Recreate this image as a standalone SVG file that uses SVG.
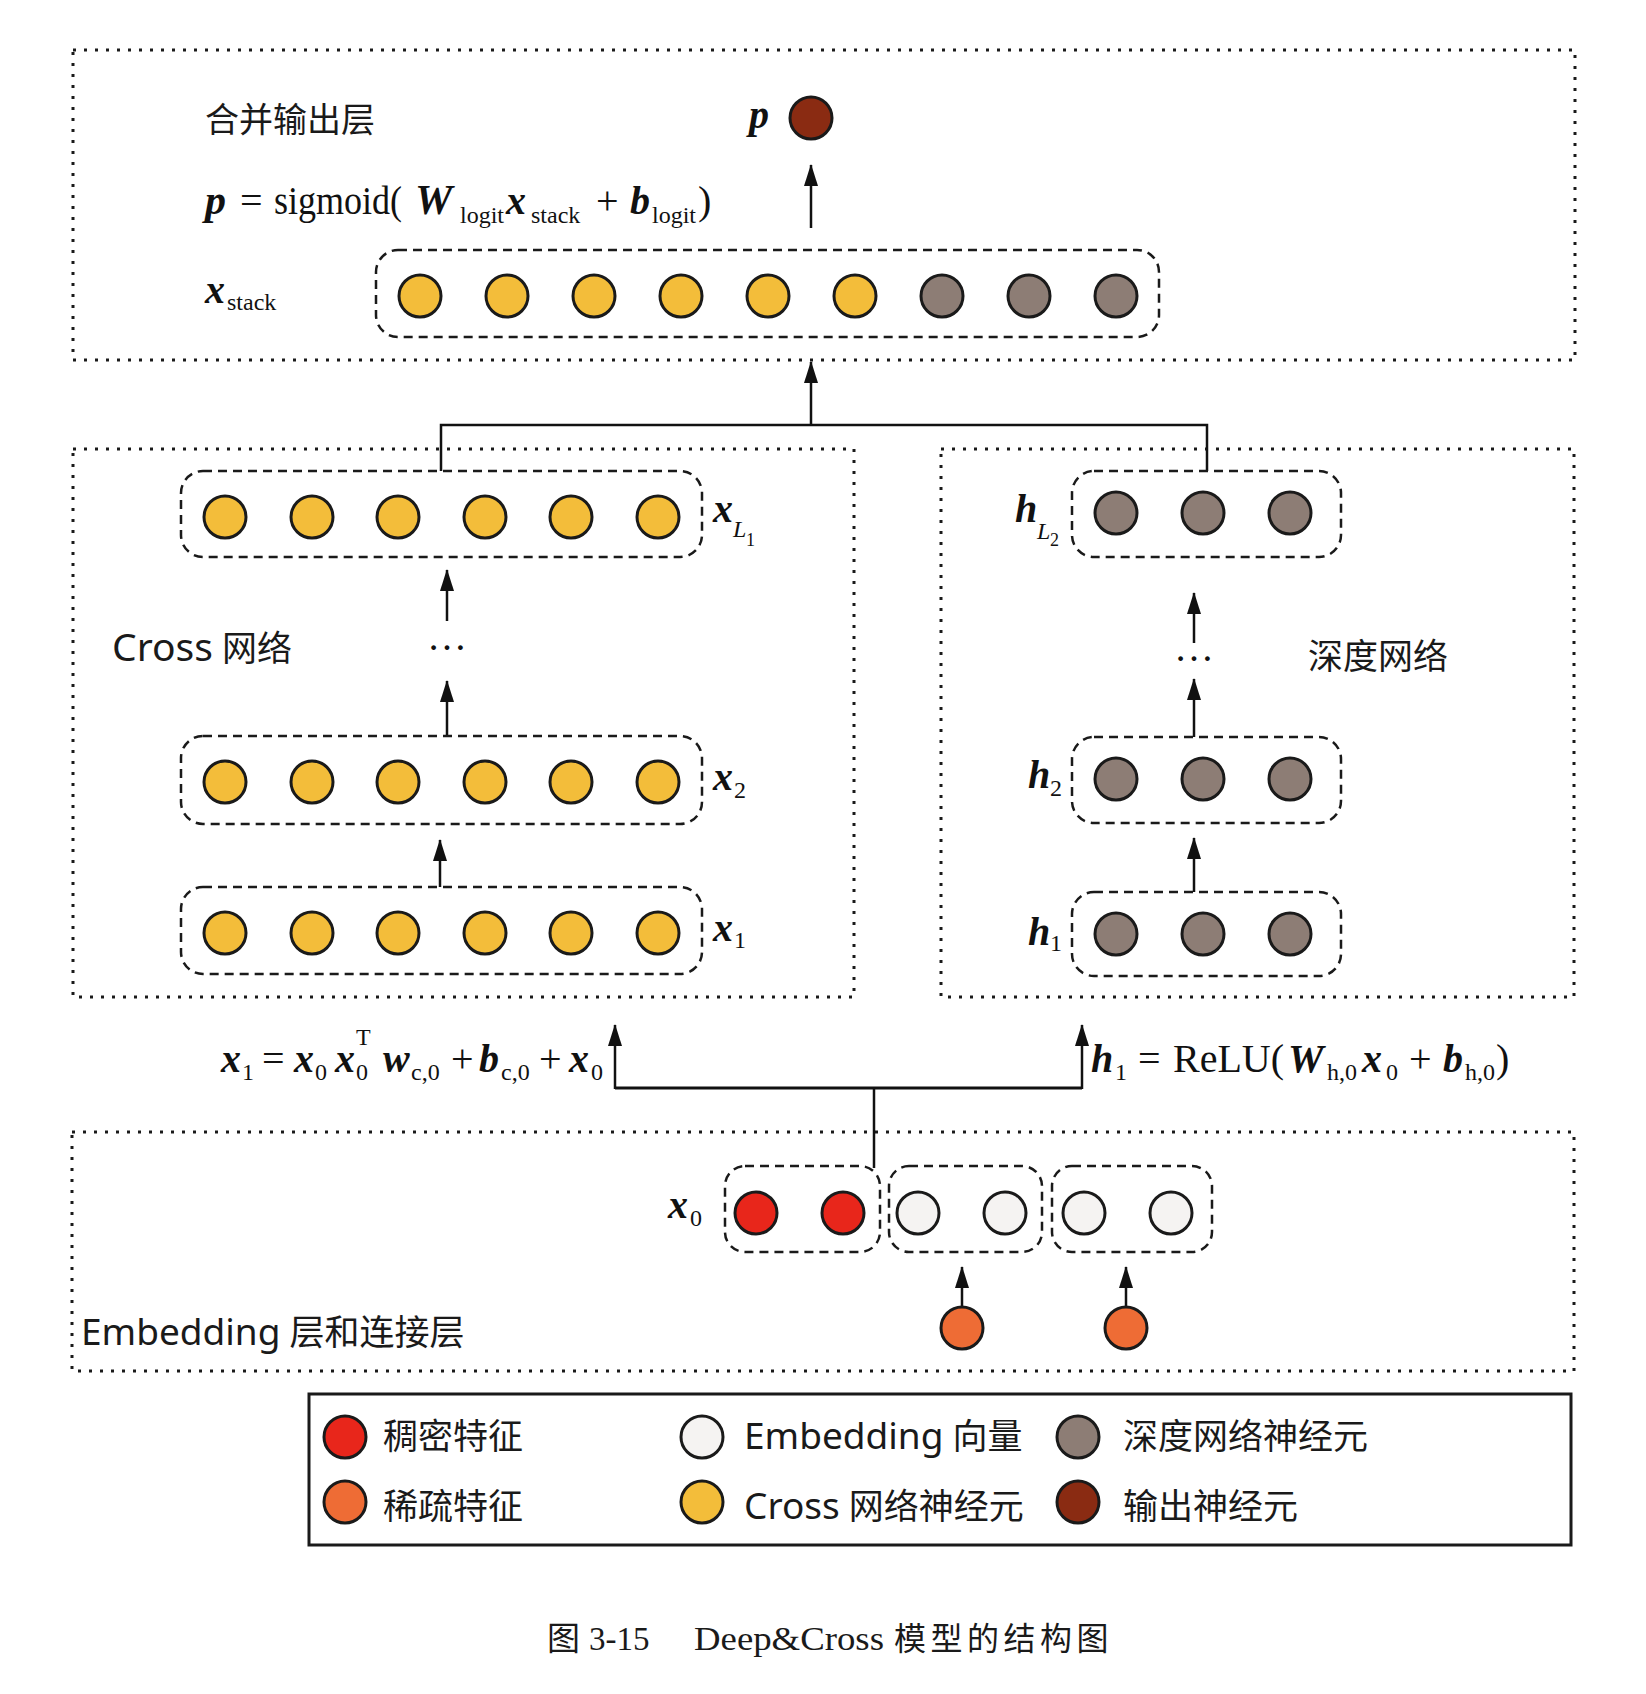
<svg xmlns="http://www.w3.org/2000/svg" width="1646" height="1694" viewBox="0 0 1646 1694">
<style>
.outer{fill:none;stroke:#1a1a1a;stroke-width:3;stroke-dasharray:3 8}
.grp{fill:none;stroke:#1a1a1a;stroke-width:2.5;stroke-dasharray:9 6}
.n{stroke:#1a1a1a;stroke-width:3}
.yel{fill:#F3BD3A}
.gry{fill:#8D7D75}
.out{fill:#8A2B12}
.red{fill:#E8261B}
.org{fill:#EE6C35}
.wht{fill:#F5F3F2}
.con{fill:none;stroke:#111;stroke-width:2.5}
.cjk{font-family:"Noto Sans","Noto Sans CJK SC",sans-serif;fill:#1a1a1a}
.lat{font-size:37px}
.m{font-family:"Liberation Serif",serif;fill:#111;font-size:40px}
.bi{font-weight:bold;font-style:italic}
.s{font-size:24px}
.cap{font-family:"Liberation Serif","Noto Sans CJK SC",serif;fill:#1a1a1a;font-size:33px}
</style>
<defs>
<marker id="ah" viewBox="0 0 22 14" refX="21" refY="7" markerWidth="22" markerHeight="14" markerUnits="userSpaceOnUse" orient="auto">
<path d="M0,0 L22,7 L0,14 z" fill="#111"/>
</marker>
</defs>

<!-- outer layer boxes -->
<g id="layers">
<rect class="outer" x="73" y="50" width="1502" height="310"/>
<rect class="outer" x="73" y="449" width="781" height="548"/>
<rect class="outer" x="941" y="449" width="633" height="548"/>
<rect class="outer" x="72" y="1132" width="1502" height="239"/>
</g>

<!-- connectors -->
<g id="connectors">
<line class="con" x1="811" y1="228" x2="811" y2="165" marker-end="url(#ah)"/>
<polyline class="con" points="441,471 441,425 1207,425 1207,471"/>
<line class="con" x1="811" y1="425" x2="811" y2="362" marker-end="url(#ah)"/>
<line class="con" x1="447" y1="621" x2="447" y2="570" marker-end="url(#ah)"/>
<line class="con" x1="447" y1="735" x2="447" y2="681" marker-end="url(#ah)"/>
<line class="con" x1="440" y1="887" x2="440" y2="840" marker-end="url(#ah)"/>
<line class="con" x1="1194" y1="643" x2="1194" y2="593" marker-end="url(#ah)"/>
<line class="con" x1="1194" y1="737" x2="1194" y2="679" marker-end="url(#ah)"/>
<line class="con" x1="1194" y1="892" x2="1194" y2="838" marker-end="url(#ah)"/>
<line class="con" x1="874" y1="1168" x2="874" y2="1088"/>
<polyline class="con" style="stroke-width:3" points="615,1088 1082,1088"/>
<line class="con" x1="615" y1="1089" x2="615" y2="1025" marker-end="url(#ah)"/>
<line class="con" x1="1082" y1="1089" x2="1082" y2="1025" marker-end="url(#ah)"/>
<line class="con" x1="962" y1="1307" x2="962" y2="1267" marker-end="url(#ah)"/>
<line class="con" x1="1126" y1="1307" x2="1126" y2="1267" marker-end="url(#ah)"/>
<text x="447" y="650" class="m" font-size="30" text-anchor="middle">…</text>
<text x="1194" y="661" class="m" font-size="30" text-anchor="middle">…</text>
</g>

<!-- output layer -->
<g id="title-output">
<text x="205" y="132" class="cjk" font-size="34">合并输出层</text>
</g>
<g id="p-node">
<text x="749" y="128" class="m bi" font-size="44">p</text>
<circle class="n out" cx="811" cy="118" r="21"/>
</g>
<g id="formula-p">
<text class="m" y="214"><tspan x="205" class="bi" font-size="42">p</tspan><tspan x="240">=</tspan><tspan x="274" textLength="128" lengthAdjust="spacingAndGlyphs">sigmoid(</tspan><tspan x="415" class="bi" font-size="42">W</tspan><tspan x="460" y="223" class="s">logit</tspan><tspan x="506" y="214" class="bi">x</tspan><tspan x="531" y="223" class="s">stack</tspan><tspan x="596" y="214">+</tspan><tspan x="630" class="bi">b</tspan><tspan x="652" y="223" class="s">logit</tspan><tspan x="698" y="214">)</tspan></text>
</g>
<g id="xstack">
<text class="m" y="303"><tspan x="205" class="bi">x</tspan><tspan x="227" y="310" class="s">stack</tspan></text>
<rect class="grp" x="376" y="250" width="783" height="87" rx="22"/>
<circle class="n yel" cx="420" cy="296" r="21"/>
<circle class="n yel" cx="507" cy="296" r="21"/>
<circle class="n yel" cx="594" cy="296" r="21"/>
<circle class="n yel" cx="681" cy="296" r="21"/>
<circle class="n yel" cx="768" cy="296" r="21"/>
<circle class="n yel" cx="855" cy="296" r="21"/>
<circle class="n gry" cx="942" cy="296" r="21"/>
<circle class="n gry" cx="1029" cy="296" r="21"/>
<circle class="n gry" cx="1116" cy="296" r="21"/>
</g>

<!-- cross network -->
<g id="cross-label"><text x="112" y="661" class="cjk" font-size="35"><tspan font-size="39">Cross</tspan> 网络</text></g>
<g id="xL1">
<rect class="grp" x="181" y="471" width="521" height="86" rx="22"/>
<circle class="n yel" cx="225" cy="517" r="21"/>
<circle class="n yel" cx="312" cy="517" r="21"/>
<circle class="n yel" cx="398" cy="517" r="21"/>
<circle class="n yel" cx="485" cy="517" r="21"/>
<circle class="n yel" cx="571" cy="517" r="21"/>
<circle class="n yel" cx="658" cy="517" r="21"/>
<text class="m" y="522"><tspan x="713" class="bi">x</tspan><tspan x="733" y="537" class="s" font-style="italic">L</tspan><tspan x="746" y="546" font-size="18">1</tspan></text>
</g>
<g id="x2">
<rect class="grp" x="181" y="736" width="521" height="88" rx="22"/>
<circle class="n yel" cx="225" cy="782" r="21"/>
<circle class="n yel" cx="312" cy="782" r="21"/>
<circle class="n yel" cx="398" cy="782" r="21"/>
<circle class="n yel" cx="485" cy="782" r="21"/>
<circle class="n yel" cx="571" cy="782" r="21"/>
<circle class="n yel" cx="658" cy="782" r="21"/>
<text class="m" y="790"><tspan x="713" class="bi">x</tspan><tspan x="734" y="798" class="s">2</tspan></text>
</g>
<g id="x1">
<rect class="grp" x="181" y="887" width="521" height="87" rx="22"/>
<circle class="n yel" cx="225" cy="933" r="21"/>
<circle class="n yel" cx="312" cy="933" r="21"/>
<circle class="n yel" cx="398" cy="933" r="21"/>
<circle class="n yel" cx="485" cy="933" r="21"/>
<circle class="n yel" cx="571" cy="933" r="21"/>
<circle class="n yel" cx="658" cy="933" r="21"/>
<text class="m" y="941"><tspan x="713" class="bi">x</tspan><tspan x="734" y="948" class="s">1</tspan></text>
</g>

<!-- deep network -->
<g id="deep-label"><text x="1308" y="669" class="cjk" font-size="35">深度网络</text></g>
<g id="hL2">
<rect class="grp" x="1072" y="471" width="269" height="86" rx="22"/>
<circle class="n gry" cx="1116" cy="513" r="21"/>
<circle class="n gry" cx="1203" cy="513" r="21"/>
<circle class="n gry" cx="1290" cy="513" r="21"/>
<text class="m" y="522"><tspan x="1015" class="bi">h</tspan><tspan x="1037" y="539" class="s" font-style="italic">L</tspan><tspan x="1050" y="546" font-size="18">2</tspan></text>
</g>
<g id="h2">
<rect class="grp" x="1072" y="737" width="269" height="86" rx="22"/>
<circle class="n gry" cx="1116" cy="779" r="21"/>
<circle class="n gry" cx="1203" cy="779" r="21"/>
<circle class="n gry" cx="1290" cy="779" r="21"/>
<text class="m" y="788"><tspan x="1028" class="bi">h</tspan><tspan x="1050" y="796" class="s">2</tspan></text>
</g>
<g id="h1">
<rect class="grp" x="1072" y="892" width="269" height="84" rx="22"/>
<circle class="n gry" cx="1116" cy="934" r="21"/>
<circle class="n gry" cx="1203" cy="934" r="21"/>
<circle class="n gry" cx="1290" cy="934" r="21"/>
<text class="m" y="945"><tspan x="1028" class="bi">h</tspan><tspan x="1050" y="951" class="s">1</tspan></text>
</g>

<!-- formulas -->
<g id="formula-cross">
<text class="m" y="1072"><tspan x="221" class="bi">x</tspan><tspan x="242" y="1080" class="s">1</tspan><tspan x="262" y="1072">=</tspan><tspan x="294" class="bi">x</tspan><tspan x="315" y="1080" class="s">0</tspan><tspan x="335" y="1072" class="bi">x</tspan><tspan x="356" y="1080" class="s">0</tspan><tspan x="356" y="1045" class="s">T</tspan><tspan x="383" y="1072" class="bi">w</tspan><tspan x="411" y="1080" class="s">c,0</tspan><tspan x="451" y="1072">+</tspan><tspan x="479" class="bi">b</tspan><tspan x="501" y="1080" class="s">c,0</tspan><tspan x="539" y="1072">+</tspan><tspan x="569" class="bi">x</tspan><tspan x="591" y="1080" class="s">0</tspan></text>
</g>
<g id="formula-deep">
<text class="m" y="1072"><tspan x="1091" class="bi">h</tspan><tspan x="1115" y="1080" class="s">1</tspan><tspan x="1138" y="1072">=</tspan><tspan x="1173">ReLU(</tspan><tspan x="1288" class="bi">W</tspan><tspan x="1327" y="1080" class="s">h,0</tspan><tspan x="1362" y="1072" class="bi">x</tspan><tspan x="1386" y="1080" class="s">0</tspan><tspan x="1409" y="1072">+</tspan><tspan x="1443" class="bi">b</tspan><tspan x="1465" y="1080" class="s">h,0</tspan><tspan x="1496" y="1072">)</tspan></text>
</g>

<!-- embedding layer -->
<g id="emb-label"><text x="81" y="1345" class="cjk" font-size="35"><tspan class="lat">Embedding</tspan> 层和连接层</text></g>
<g id="x0">
<text class="m" y="1218"><tspan x="668" class="bi">x</tspan><tspan x="690" y="1226" class="s">0</tspan></text>
<rect class="grp" x="725" y="1166" width="155" height="86" rx="20"/>
<rect class="grp" x="889" y="1166" width="153" height="86" rx="20"/>
<rect class="grp" x="1052" y="1166" width="160" height="86" rx="20"/>
<circle class="n red" cx="756" cy="1213" r="21"/>
<circle class="n red" cx="843" cy="1213" r="21"/>
<circle class="n wht" cx="918" cy="1213" r="21"/>
<circle class="n wht" cx="1005" cy="1213" r="21"/>
<circle class="n wht" cx="1084" cy="1213" r="21"/>
<circle class="n wht" cx="1171" cy="1213" r="21"/>
</g>
<g id="sparse1"><circle class="n org" cx="962" cy="1328" r="21"/></g>
<g id="sparse2"><circle class="n org" cx="1126" cy="1328" r="21"/></g>

<!-- legend -->
<g id="legend">
<rect x="309" y="1394" width="1262" height="151" fill="none" stroke="#1a1a1a" stroke-width="3"/>
<circle class="n red" cx="345" cy="1437" r="21"/>
<circle class="n org" cx="345" cy="1502" r="21"/>
<circle class="n wht" cx="702" cy="1437" r="21"/>
<circle class="n yel" cx="702" cy="1502" r="21"/>
<circle class="n gry" cx="1078" cy="1437" r="21"/>
<circle class="n out" cx="1078" cy="1502" r="21"/>
<text x="383" y="1449" class="cjk" font-size="35">稠密特征</text>
<text x="383" y="1519" class="cjk" font-size="35">稀疏特征</text>
<text x="744" y="1449" class="cjk" font-size="35"><tspan class="lat">Embedding</tspan> 向量</text>
<text x="744" y="1519" class="cjk" font-size="35"><tspan class="lat">Cross</tspan> 网络神经元</text>
<text x="1123" y="1449" class="cjk" font-size="35">深度网络神经元</text>
<text x="1123" y="1519" class="cjk" font-size="35">输出神经元</text>
</g>

<!-- caption -->
<g id="caption">
<text class="cap" y="1650"><tspan x="547">图</tspan><tspan x="589">3-15</tspan><tspan x="694" textLength="190" lengthAdjust="spacingAndGlyphs">Deep&amp;Cross</tspan><tspan x="894" letter-spacing="4.5" font-size="32">模型的结构图</tspan></text>
</g>
</svg>
